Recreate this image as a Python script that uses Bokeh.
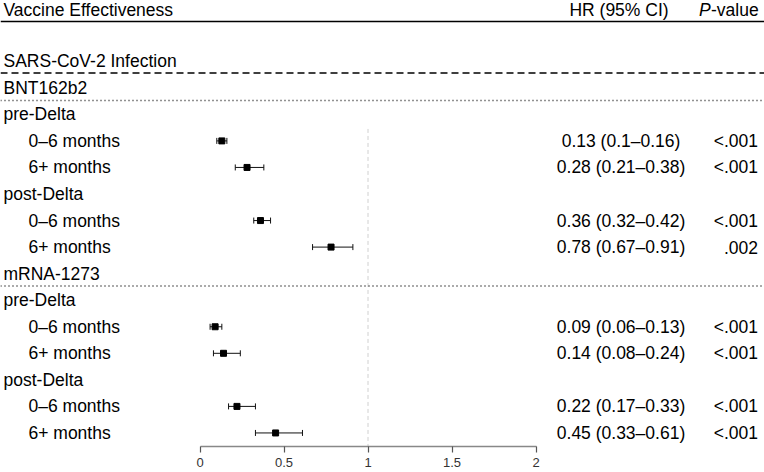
from bokeh.plotting import figure
from bokeh.models import (Range1d, LinearAxis, FixedTicker, Span, Whisker, TeeHead,
                          ColumnDataSource)
from bokeh.core.properties import value
from bokeh.embed import file_html
from bokeh.resources import INLINE

# ---------------- data ----------------
row_labels = ["SARS-CoV-2 Infection", "BNT162b2", "pre-Delta", "0–6 months", "6+ months",
              "post-Delta", "0–6 months", "6+ months", "mRNA-1273", "pre-Delta",
              "0–6 months", "6+ months", "post-Delta", "0–6 months", "6+ months"]
row_indent = [0, 0, 0, 1, 1, 0, 1, 1, 0, 0, 1, 1, 0, 1, 1]
est_rows = [3, 4, 6, 7, 10, 11, 13, 14]
hr = [0.13, 0.28, 0.36, 0.78, 0.09, 0.14, 0.22, 0.45]
hr_lo = [0.10, 0.21, 0.32, 0.67, 0.06, 0.08, 0.17, 0.33]
hr_hi = [0.16, 0.38, 0.42, 0.91, 0.13, 0.24, 0.33, 0.61]
hr_text = ["0.13 (0.1–0.16)", "0.28 (0.21–0.38)", "0.36 (0.32–0.42)", "0.78 (0.67–0.91)",
           "0.09 (0.06–0.13)", "0.14 (0.08–0.24)", "0.22 (0.17–0.33)", "0.45 (0.33–0.61)"]
p_text = ["<.001", "<.001", "<.001", ".002", "<.001", "<.001", "<.001", "<.001"]
tick_values = [0, 0.5, 1, 1.5, 2]
tick_labels = ["0", "0.5", "1", "1.5", "2"]
ref_value = 1

# ---------------- layout ----------------
PX = 168.0           # pixels per HR unit
X0_PAGE = 199.5      # page x of HR = 0
ROW_PX = 26.55
ROW3_PAGE = 140.4
FRAME_BOTTOM = 446.0
W = 764


def xd(page_x):
    return (page_x - X0_PAGE) / PX


def yd(page_y):
    return 3 + (page_y - ROW3_PAGE) / ROW_PX


FONT = value("Liberation Sans")
FS = "17.5px"

p = figure(frame_width=W, frame_height=int(FRAME_BOTTOM),
           x_range=Range1d(xd(0), xd(W)),
           y_range=Range1d(yd(FRAME_BOTTOM), yd(0)),
           x_axis_type=None, y_axis_type=None,
           output_backend="svg", toolbar_location=None,
           min_border_left=0, min_border_right=0, min_border_top=0, min_border_bottom=26)
p.outline_line_color = None
p.xgrid.visible = False
p.ygrid.visible = False
p.background_fill_color = "white"

# horizontal rules
p.add_layout(Span(location=yd(21), dimension="width", line_color="black", line_width=1.5))
p.add_layout(Span(location=yd(72.5), dimension="width", line_color="black",
                  line_width=1.4, line_dash="7 4"))
for yy in (yd(100), yd(285.5)):
    p.add_layout(Span(location=yy, dimension="width", line_color="#222222",
                      line_width=1.4, line_dash="1 3"))

# reference line at HR = 1
p.segment(x0=[ref_value], x1=[ref_value], y0=[2.55], y1=[yd(FRAME_BOTTOM)],
          line_color="#d0d0d0", line_width=1, line_dash="4 3")

# row labels
lab_x = [xd(3) if ind == 0 else xd(28) for ind in row_indent]
p.text(x=lab_x, y=list(range(len(row_labels))), text=row_labels,
       text_font=FONT, text_font_size=FS, text_color="black",
       text_align="left", text_baseline="middle")

# column headers
p.text(x=[xd(3)], y=[yd(9.5)], text=["Vaccine Effectiveness"], text_font=FONT,
       text_font_size=FS, text_color="black", text_align="left", text_baseline="middle")
p.text(x=[xd(618.5)], y=[yd(9.5)], text=["HR (95% CI)"], text_font=FONT,
       text_font_size=FS, text_color="black", text_align="center", text_baseline="middle")
p.text(x=[xd(698.5)], y=[yd(9.5)], text=["P"], text_font=FONT, text_font_style="italic",
       text_font_size=FS, text_color="black", text_align="left", text_baseline="middle")
p.text(x=[xd(710.5)], y=[yd(9.5)], text=["-value"], text_font=FONT,
       text_font_size=FS, text_color="black", text_align="left", text_baseline="middle")

# estimates
src = ColumnDataSource(dict(y=est_rows, hr=hr, lo=hr_lo, hi=hr_hi, t=hr_text, pv=p_text,
                            xt=[xd(620.5)] * len(hr), xp=[xd(757.5)] * len(hr)))
p.add_layout(Whisker(source=src, base="y", lower="lo", upper="hi", dimension="width",
                     line_color="#111111", line_width=1,
                     lower_head=TeeHead(size=6, line_color="#111111", line_width=1),
                     upper_head=TeeHead(size=6, line_color="#111111", line_width=1)))
p.scatter(x="hr", y="y", source=src, marker="square", size=6,
          fill_color="black", line_color="black", line_width=1)
p.text(x="xt", y="y", text="t", source=src, text_font=FONT, text_font_size=FS,
       text_color="black", text_align="center", text_baseline="middle")
p.text(x="xp", y="y", text="pv", source=src, text_font=FONT, text_font_size=FS,
       text_color="black", text_align="right", text_baseline="middle")

# x axis
ax = LinearAxis(ticker=FixedTicker(ticks=tick_values), bounds=(0, 2),
                major_label_overrides={v: l for v, l in zip(tick_values, tick_labels)},
                axis_line_color="#888888", axis_line_width=1.5,
                major_tick_line_color="#555555", major_tick_line_width=1.2,
                major_tick_out=6, major_tick_in=0, minor_tick_out=0, minor_tick_in=0,
                major_label_standoff=5,
                major_label_text_font="Liberation Sans", major_label_text_font_size="13px",
                major_label_text_color="#333333")
p.add_layout(ax, "below")

open("out.html", "w").write(file_html(p, INLINE))
